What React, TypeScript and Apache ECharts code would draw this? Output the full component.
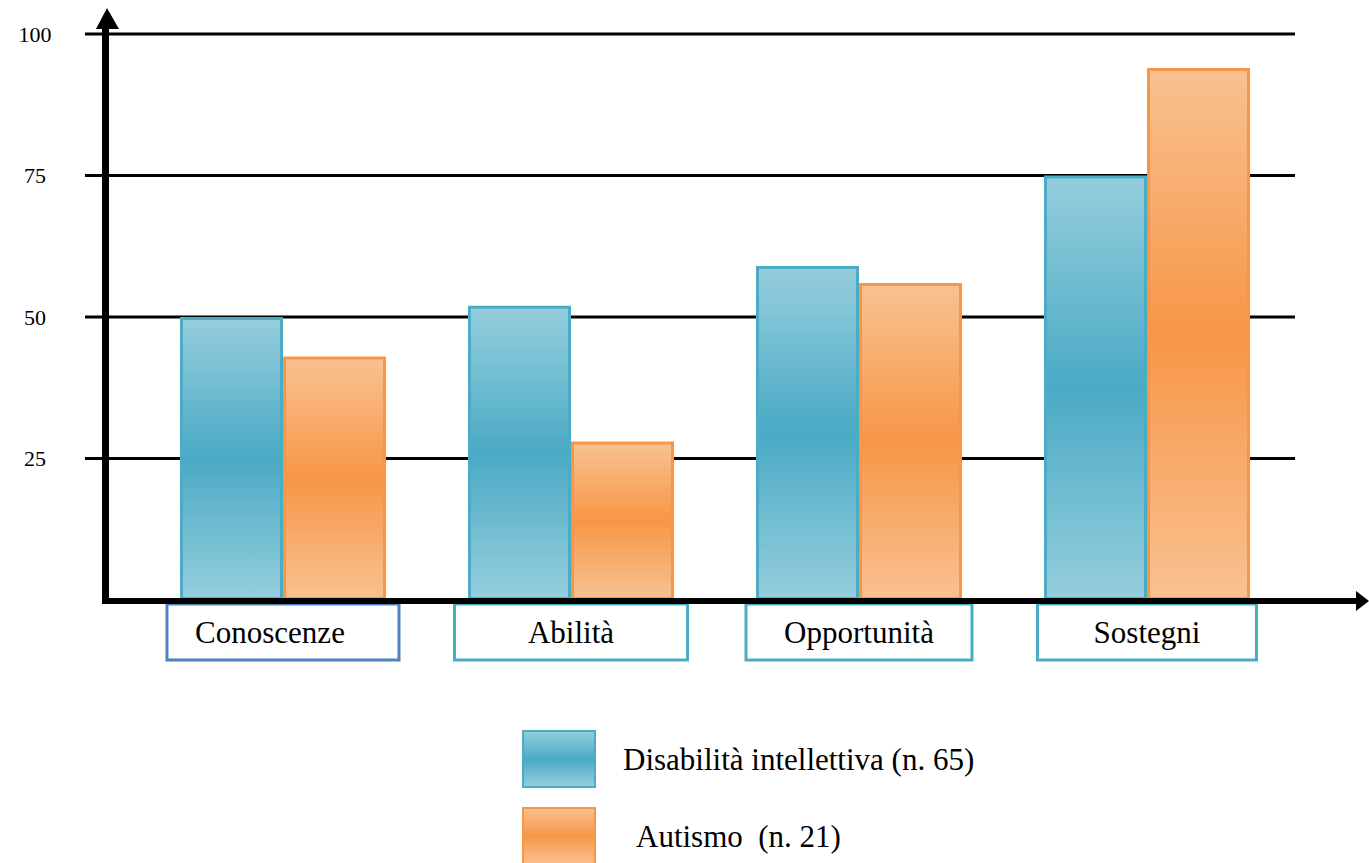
import React, { useEffect, useRef } from "react";
import * as echarts from "echarts";

const categories = ["Conoscenze", "Abilità", "Opportunità", "Sostegni"];
const disabilitaValues = [50, 52, 59, 75];
const autismoValues = [43, 28, 56, 94];
const yTicks = [25, 50, 75, 100];
const seriesNames = ["Disabilità intellettiva (n. 65)", "Autismo  (n. 21)"];

const FONT = "'Liberation Serif', 'Times New Roman', serif";

export default function App() {
  const ref = useRef<HTMLDivElement>(null);
  useEffect(() => {
    if (!ref.current) return;
    const chart = echarts.init(ref.current, undefined, { renderer: "svg" });
    const blueGrad = new echarts.graphic.LinearGradient(0, 0, 0, 1, [
      { offset: 0, color: "#95cedc" },
      { offset: 0.5, color: "#4aaac5" },
      { offset: 1, color: "#95cedc" },
    ]);
    const orangeGrad = new echarts.graphic.LinearGradient(0, 0, 0, 1, [
      { offset: 0, color: "#f9c191" },
      { offset: 0.5, color: "#f79646" },
      { offset: 1, color: "#f9c191" },
    ]);
    const boxStyles = [
      { borderColor: "#4f81bd", width: 206, padding: [0, 26, 0, 0] },
      { borderColor: "#4bacc6", width: 233, padding: [0, 0, 0, 0] },
      { borderColor: "#4bacc6", width: 226, padding: [0, 0, 0, 0] },
      { borderColor: "#4bacc6", width: 219, padding: [0, 0, 0, 0] },
    ];
    chart.setOption({
      animation: false,
      backgroundColor: "#ffffff",
      grid: { left: 139, right: 78, top: 34, bottom: 263, containLabel: false },
      legend: {
        orient: "vertical",
        left: 522,
        top: 730,
        height: 140,
        icon: "rect",
        itemWidth: 72,
        itemHeight: 56,
        itemGap: 19,
        padding: 0,
        data: [
          { name: seriesNames[0], textStyle: { padding: [0, 0, 0, 23] } },
          { name: seriesNames[1], textStyle: { padding: [0, 0, 0, 36] } },
        ],
        textStyle: { fontFamily: FONT, fontSize: 31, color: "#000" },
      },
      xAxis: {
        type: "category",
        data: categories.map((c, i) => ({
          value: c,
          textStyle: boxStyles[i],
        })),
        axisLine: { show: false },
        axisTick: { show: false },
        axisLabel: {
          interval: 0,
          margin: 4,
          fontFamily: FONT,
          fontSize: 31,
          color: "#000",
          borderWidth: 3,
          borderColor: "#4bacc6",
          height: 56,
          lineHeight: 56,
          align: "center",
          verticalAlign: "top",
        },
      },
      yAxis: {
        type: "value",
        min: 0,
        max: 100,
        interval: 25,
        axisLine: { show: false },
        axisTick: { show: false },
        splitLine: { show: false },
        axisLabel: {
          margin: 104,
          align: "center",
          fontFamily: FONT,
          fontSize: 22,
          color: "#000",
          formatter: (v: number) => (v === 0 ? "" : String(v)),
        },
      },
      series: [
        {
          name: seriesNames[0],
          type: "bar",
          data: disabilitaValues,
          barWidth: 103,
          barGap: "0%",
          itemStyle: { color: blueGrad, borderColor: "#4bacc6", borderWidth: 3 },
        },
        {
          name: seriesNames[1],
          type: "bar",
          data: autismoValues,
          barWidth: 103,
          barGap: "0%",
          itemStyle: { color: orangeGrad, borderColor: "#f79646", borderWidth: 3 },
        },
      ],
    });

    const y0 = chart.convertToPixel({ yAxisIndex: 0 }, 0) as number;
    const gridLines = yTicks.map((t) => {
      const y = chart.convertToPixel({ yAxisIndex: 0 }, t) as number;
      return {
        type: "line",
        z: 0,
        shape: { x1: 85, y1: y, x2: 1295, y2: y },
        style: { stroke: "#000", lineWidth: 3 },
      };
    });
    chart.setOption({
      graphic: [
        ...gridLines,
        {
          type: "line",
          z: 10,
          shape: { x1: 102, y1: y0 + 1, x2: 1360, y2: y0 + 1 },
          style: { stroke: "#000", lineWidth: 6 },
        },
        {
          type: "polygon",
          z: 10,
          shape: { points: [[1356, y0 - 9], [1369, y0 + 1], [1356, y0 + 11]] },
          style: { fill: "#000" },
        },
        {
          type: "line",
          z: 10,
          shape: { x1: 105.5, y1: y0 + 4, x2: 105.5, y2: 24 },
          style: { stroke: "#000", lineWidth: 7 },
        },
        {
          type: "polygon",
          z: 10,
          shape: { points: [[96, 29], [107, 8], [119, 29]] },
          style: { fill: "#000" },
        },
      ],
    });
    return () => chart.dispose();
  }, []);
  return (
    <div
      ref={ref}
      style={{ position: "fixed", left: 0, top: 0, width: 1369, height: 863 }}
    />
  );
}
